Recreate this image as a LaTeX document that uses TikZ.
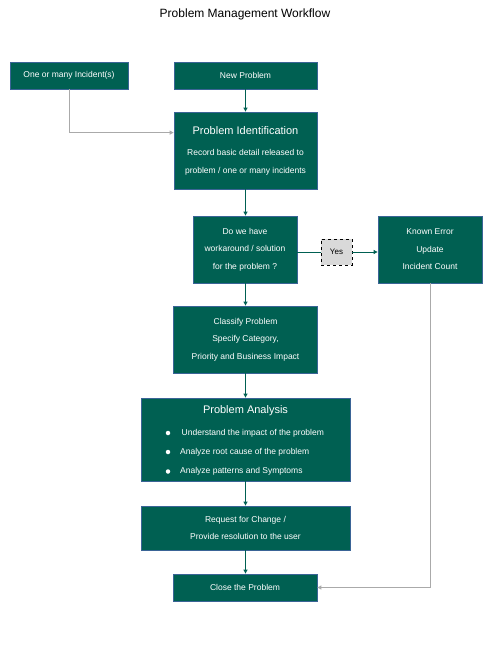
\documentclass[tikz,border=0pt]{standalone}
\usepackage{fontspec}
\setmainfont{Liberation Sans}
\usetikzlibrary{arrows.meta,calc}
\definecolor{teal}{RGB}{0,96,82}
\definecolor{edge}{RGB}{58,100,150}
\definecolor{arr}{RGB}{0,96,82}
\definecolor{gline}{RGB}{170,170,170}
\definecolor{yesfill}{RGB}{217,217,217}
\tikzset{
  box/.style={draw=edge, line width=0.8pt, fill=teal, text=white, align=center,
    font=\fontsize{8.5}{17.5}\selectfont, inner sep=0pt},
  hd/.style={font=\fontsize{11}{13}\selectfont},
  flow/.style={draw=arr, line width=0.9pt, -{Triangle[length=4pt,width=4pt]}},
  gflow/.style={draw=gline, line width=1pt, -{Triangle[length=4pt,width=4pt]}},
  plain/.style={draw=arr, line width=0.9pt},
  yesbox/.style={draw=black, dashed, line width=0.6pt, fill=yesfill, font=\fontsize{8}{10}\selectfont, inner sep=0pt},
  bul/.style={circle, fill=white, inner sep=0pt, minimum size=4.5pt},
  btxt/.style={text=white, anchor=west, font=\fontsize{8.5}{10}\selectfont, inner sep=0pt}
}
\begin{document}
\begin{tikzpicture}[x=1pt,y=-1pt]
\useasboundingbox (0,0) rectangle (490,649);
\node[font=\fontsize{12}{14}\selectfont] (title) at (245,14) {Problem Management Workflow};

\node[box, minimum width=118, minimum height=27] (inc) at (69,75.5) {One or many Incident(s)};
\node[box, minimum width=143, minimum height=27] (newp) at (245.5,75.5) {New Problem};
\node[box, minimum width=143, minimum height=77] (ident) at (245.5,150.5)
  {{\fontsize{11}{13}\selectfont Problem Identification}\\[4pt]Record basic detail released to\\problem / one or many incidents};
\node[box, minimum width=104, minimum height=67] (q) at (245,249.5)
  {Do we have\\workaround / solution\\for the problem ?};
\node[yesbox, minimum width=31, minimum height=26] (yes) at (336.5,252) {Yes};
\node[box, minimum width=104, minimum height=67] (known) at (430,249.5)
  {Known Error\\Update\\Incident Count};
\node[box, minimum width=144, minimum height=67] (classify) at (245.5,339.5)
  {Classify Problem\\Specify Category,\\Priority and Business Impact};
\node[box, minimum width=209, minimum height=83] (analysis) at (245.5,439.5) {};
\node[hd, text=white] (analysisT) at (245.5,411) {Problem Analysis};
\node[bul] (b1) at (168,433) {};
\node[bul] (b2) at (168,452) {};
\node[bul] (b3) at (168,471.5) {};
\node[btxt] (t1) at (181.5,433) {Understand the impact of the problem};
\node[btxt] (t2) at (180,452) {Analyze root cause of the problem};
\node[btxt] (t3) at (180,471.5) {Analyze patterns and Symptoms};
\node[box, minimum width=209, minimum height=44] (request) at (245.5,528)
  {Request for Change /\\Provide resolution to the user};
\node[box, minimum width=144, minimum height=27] (close) at (245,587.5) {Close the Problem};

\draw[flow] (newp) -- (ident);
\draw[flow] (ident.south) -- (ident.south |- q.north);
\draw[flow] (q.south -| ident.south) -- (ident.south |- classify.north);
\draw[flow] (classify.south -| ident.south) -- (ident.south |- analysis.north);
\draw[flow] (analysis) -- (request);
\draw[flow] (request.south) -- (request.south |- close.north);
\draw[plain] (yes.west -| q.east) -- (yes.west);
\draw[flow] (yes.east) -- (yes.east -| known.west);
\draw[gflow] (inc.south) |- ($(ident.north west)!0.27!(ident.south west)$);
\draw[gflow] (known.south) |- (close.east);
\end{tikzpicture}
\end{document}
